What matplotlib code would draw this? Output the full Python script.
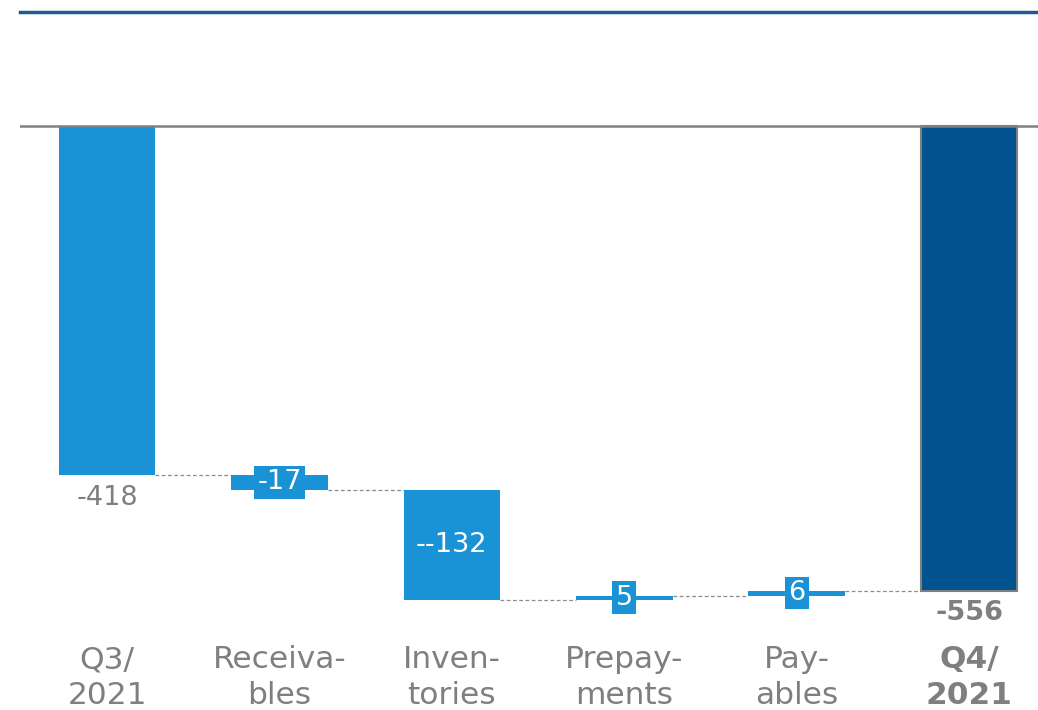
import numpy as np
from matplotlib import pyplot as plt

LIGHT = "#1a93d6"
DARK = "#00538f"
GREY = "#7f7f7f"

categories = ["Q3/\n2021", "Receiva-\nbles", "Inven-\ntories", "Prepay-\nments", "Pay-\nables", "Q4/\n2021"]
values = [-418, -17, -132, 5, 6, -556]
labels = ["-418", "-17", "--132", "5", "6", "-556"]


def waterfall(vals):
    bottoms, heights = [], []
    run = 0
    for i, v in enumerate(vals):
        if i == 0 or i == len(vals) - 1:
            bottoms.append(0)
            heights.append(v)
            run = v
        else:
            bottoms.append(run)
            heights.append(v)
            run += v
    return bottoms, heights


plt.rcParams['font.family'] = ['DejaVu Sans']
fig = plt.figure(figsize=(10.38, 7.10), dpi=100)
ax = fig.add_axes([20 / 1038, 10 / 710, 1018 / 1038, 688 / 710])

x = np.arange(len(values))
bottoms, heights = waterfall(values)
colors = [LIGHT] * (len(values) - 1) + [DARK]
edges = ["none"] * (len(values) - 1) + ["#808080"]
ax.bar(x, heights, bottom=bottoms, width=0.56, color=colors, edgecolor=edges, linewidth=1.5, zorder=3)

# connectors
for i in range(len(values) - 1):
    lvl = bottoms[i] + heights[i]
    ax.plot([x[i] + 0.28, x[i + 1] - 0.28], [lvl, lvl], ls=(0, (3, 2)), color="#8c8c8c", lw=0.9, zorder=2)

ax.axhline(0, color="#808080", lw=1.8, zorder=4)

# value labels
ax.text(x[0], values[0] - 27, labels[0], ha="center", va="center", fontsize=19.5, color=GREY)
for i in range(1, len(values) - 1):
    mid = bottoms[i] + heights[i] / 2
    if abs(heights[i]) > 60:
        ax.text(x[i], mid, labels[i], ha="center", va="center", fontsize=19.5, color="white", zorder=5)
    else:
        ax.text(x[i], mid, labels[i], ha="center", va="center", fontsize=19.5, color="white", zorder=5,
                bbox=dict(boxstyle="square,pad=0.12", fc=LIGHT, ec="none"))
ax.text(x[-1], values[-1] - 27, labels[-1], ha="center", va="center", fontsize=19.5, color=GREY, fontweight="bold")

for i, c in enumerate(categories):
    bold = i == len(categories) - 1
    ax.text(x[i], -660, c, ha="center", va="center", fontsize=22.5, color=GREY,
            fontweight="bold" if bold else "normal", linespacing=1.3)

ax.set_xlim(-0.505, 5.4)
ax.set_ylim(-687, 137)
for s in ["left", "right", "bottom"]:
    ax.spines[s].set_visible(False)
ax.spines["top"].set_color("#1f5a96")
ax.spines["top"].set_linewidth(2.5)
ax.set_xticks([])
ax.set_yticks([])

fig.savefig("out.png", dpi=100)
